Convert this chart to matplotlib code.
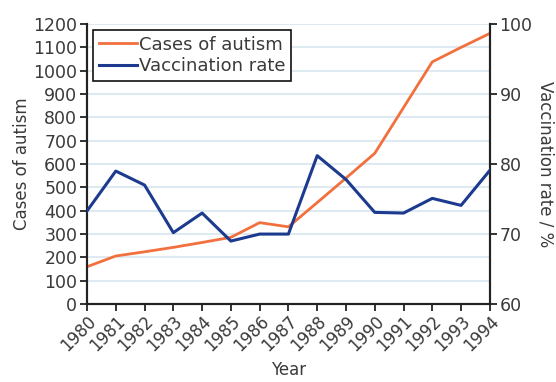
import matplotlib
matplotlib.use("Agg")
import matplotlib.pyplot as plt

# =========================
# DATA
# =========================
years = list(range(1980, 1995))
autism_cases = [160, 206, 224, 243, 264, 286, 349, 331, 435, 540, 646, 842, 1038, 1100, 1160]
vaccination_rate = [73.3, 79.0, 77.0, 70.2, 73.0, 69.0, 70.0, 70.0, 81.2, 77.8, 73.1, 73.0, 75.1, 74.1, 79.1]

ORANGE = "#f2703d"
BLUE = "#1c3a8e"
TEXT = "#3a3a3a"
GRID = "#dfe9f1"

plt.rcParams["font.family"] = ["DejaVu Sans"]

fig = plt.figure(figsize=(5.56, 3.82), dpi=100)
ax = fig.add_axes([0.1565, 0.204, 0.7245, 0.733])
ax2 = ax.twinx()

# cases on the left axis
l1, = ax.plot(years, autism_cases, color=ORANGE, lw=2.0, label="Cases of autism", zorder=3)
ax.set_ylim(0, 1200)
ax.set_yticks(range(0, 1201, 100))
ax.set_xlim(1980, 1994)
ax.set_xticks(years)
ax.set_xticklabels([str(y) for y in years], rotation=45, ha="right",
                   rotation_mode="anchor")
ax.yaxis.grid(True, color=GRID, lw=1.5)
ax.set_axisbelow(True)

# vaccination rate on the right axis
l2, = ax2.plot(years, vaccination_rate, color=BLUE, lw=2.2, label="Vaccination rate", zorder=3)
ax2.set_ylim(60, 100)
ax2.set_yticks([60, 70, 80, 90, 100])

for a in (ax, ax2):
    a.spines["top"].set_visible(False)
    for s in ("left", "right", "bottom"):
        a.spines[s].set_color("#222222")
        a.spines[s].set_linewidth(1.5)
    a.tick_params(colors="#222222", labelcolor=TEXT, labelsize=12.5,
                  width=1.3, length=5, direction="out", pad=2)
ax.tick_params(axis="x", labelsize=12, pad=1)

ax.set_ylabel("Cases of autism", fontsize=12, color=TEXT, labelpad=2)
ax2.set_ylabel("Vaccination rate / %", fontsize=12, color=TEXT,
               rotation=270, labelpad=16)
ax.set_xlabel("Year", fontsize=12, color=TEXT, labelpad=4)

leg = ax.legend(handles=[l1, l2], loc="upper left", fontsize=13,
                frameon=True, fancybox=False, handlelength=2.1,
                handletextpad=0.15, borderpad=0.3, labelspacing=0.2,
                borderaxespad=0.35, framealpha=1)
leg.get_frame().set_edgecolor("#111111")
leg.get_frame().set_linewidth(1.2)
for t in leg.get_texts():
    t.set_color(TEXT)

fig.savefig("out.png", dpi=100)
